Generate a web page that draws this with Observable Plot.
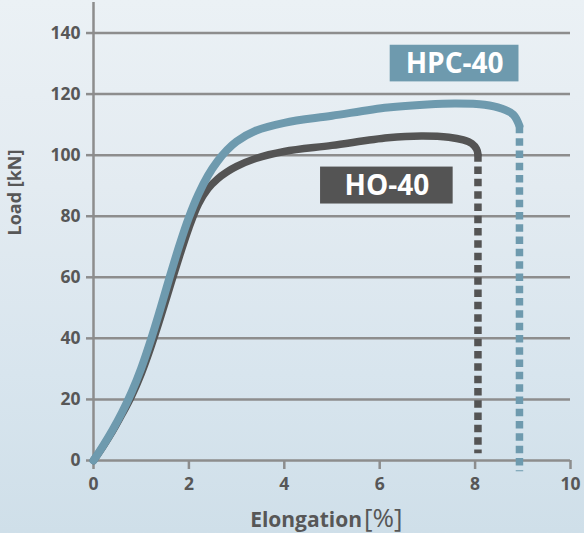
<!DOCTYPE html>
<html>
<head>
<meta charset="utf-8">
<script src="https://cdn.jsdelivr.net/npm/d3@7"></script>
<script src="https://cdn.jsdelivr.net/npm/@observablehq/plot@0.6"></script>
<style>
  html, body { margin: 0; padding: 0; }
  body {
    width: 584px; height: 533px; overflow: hidden;
    background: linear-gradient(to bottom, #ebf1f5 0%, #e3ebf1 35%, #d8e5ee 70%, #cfdfe9 100%);
    font-family: "Open Sans", sans-serif;
  }
  #chart svg { display: block; }
</style>
</head>
<body>
<div id="chart"></div>
<script>
// Tick values
const xTicks = [0, 2, 4, 6, 8, 10];
const yTicks = [0, 20, 40, 60, 80, 100, 120, 140];
const gridY = [20, 40, 60, 80, 100, 120, 140];

// HPC-40 (solid part): elongation [%], load [kN]
const hpcX = [0, 0.2, 0.4, 0.6, 0.8, 1.0, 1.2, 1.4, 1.6, 1.8, 2.0, 2.2, 2.4, 2.6, 2.8, 3.0, 3.4, 4.0, 5.0, 6.17, 7.0, 7.6, 8.2, 8.55, 8.8, 8.93];
const hpcY = [0, 4.8, 10, 15.8, 22.4, 30.2, 39.4, 49.6, 60.2, 70.4, 79.6, 87.2, 93.3, 98.0, 101.7, 104.5, 108.0, 110.6, 112.9, 115.6, 116.6, 116.9, 116.5, 115.3, 113.3, 109.6];
// HO-40 (solid part)
const hoX = [0, 0.2, 0.4, 0.6, 0.8, 1.0, 1.2, 1.4, 1.6, 1.8, 2.0, 2.2, 2.4, 2.6, 2.8, 3.0, 3.4, 4.0, 5.0, 6.17, 6.87, 7.45, 7.75, 7.93, 8.03, 8.06];
const hoY = [0, 4.6, 9.6, 15.2, 21.2, 28.4, 37.0, 46.6, 56.8, 66.8, 76.2, 84.0, 89.0, 92.2, 94.5, 96.3, 98.9, 101.2, 103.2, 105.7, 106.3, 105.9, 105.0, 103.8, 102.0, 100.3];
// Dashed drops to zero
const hpcDropX = [8.93, 8.93];
const hpcDropY = [109.6, -3.5];
const hoDropX = [8.06, 8.06];
const hoDropY = [100.3, 2.4];

// Labels
const labelNames = ["HPC-40", "HO-40"];
const labelX1 = [6.22, 4.76];
const labelX2 = [8.92, 7.54];
const labelY1 = [124, 84];
const labelY2 = [136, 96.1];
const labelColors = ["#6e9aae", "#545454"];

const hpc = hpcX.map((x, i) => ({x, y: hpcY[i]}));
const ho = hoX.map((x, i) => ({x, y: hoY[i]}));
const hpcDrop = hpcDropX.map((x, i) => ({x, y: hpcDropY[i]}));
const hoDrop = hoDropX.map((x, i) => ({x, y: hoDropY[i]}));
const labels = labelNames.map((name, i) => ({name, x1: labelX1[i], x2: labelX2[i], y1: labelY1[i], y2: labelY2[i], color: labelColors[i]}));

const gridColor = "#8d8d8d";
const textColor = "#575757";
const blue = "#6e9aae";
const dark = "#545454";

const chart = Plot.plot({
  width: 584,
  height: 533,
  marginLeft: 93,
  marginRight: 14,
  marginTop: 2,
  marginBottom: 73,
  x: {domain: [0, 10], axis: null},
  y: {domain: [0, 150], axis: null},
  style: {background: "transparent", fontFamily: "'Open Sans', sans-serif", color: textColor, overflow: "visible"},
  marks: [
    Plot.ruleY(gridY, {x1: 0, x2: 10, stroke: gridColor, strokeWidth: 2.5}),
    Plot.axisY(yTicks, {tickSize: 7, tickPadding: 6, stroke: gridColor, strokeWidth: 2.5, fontSize: 17.5, fontWeight: "bold", label: null}),
    Plot.axisX(xTicks, {tickSize: 9, tickPadding: 8, stroke: gridColor, strokeWidth: 2.5, fontSize: 17.5, fontWeight: "bold", label: null}),
    Plot.ruleX([0], {stroke: gridColor, strokeWidth: 2.5}),
    Plot.ruleY([0], {x1: 0, x2: 10, stroke: gridColor, strokeWidth: 2.5}),
    Plot.line(hoDrop, {x: "x", y: "y", stroke: dark, strokeWidth: 7.5, strokeDasharray: "7.5,4.8", strokeLinecap: "butt"}),
    Plot.line(hpcDrop, {x: "x", y: "y", stroke: blue, strokeWidth: 7.5, strokeDasharray: "7.5,4.8", strokeLinecap: "butt"}),
    Plot.line(ho, {x: "x", y: "y", stroke: dark, strokeWidth: 7.5, curve: "catmull-rom", strokeLinecap: "round"}),
    Plot.line(hpc, {x: "x", y: "y", stroke: blue, strokeWidth: 8, curve: "catmull-rom", strokeLinecap: "round"}),
    Plot.rect(labels, {x1: "x1", x2: "x2", y1: "y1", y2: "y2", fill: "color"}),
    Plot.text(labels, {x: d => (d.x1 + d.x2) / 2, y: d => (d.y1 + d.y2) / 2, text: "name", fill: "white", fontSize: 28, fontWeight: "bold", lineAnchor: "middle"}),
    Plot.text(["Elongation"], {frameAnchor: "bottom", textAnchor: "end", dx: 30, dy: 66, fontSize: 21, fontWeight: "bold", fill: textColor}),
    Plot.text(["[%]"], {frameAnchor: "bottom", textAnchor: "start", dx: 32, dy: 66, fontSize: 26, fill: textColor}),
    Plot.text(["Load [kN]"], {frameAnchor: "left", rotate: -90, dx: -78, dy: 4, fontSize: 18, fontWeight: "bold", fill: textColor, lineAnchor: "middle"})
  ]
});
document.getElementById("chart").append(chart);
</script>
</body>
</html>
